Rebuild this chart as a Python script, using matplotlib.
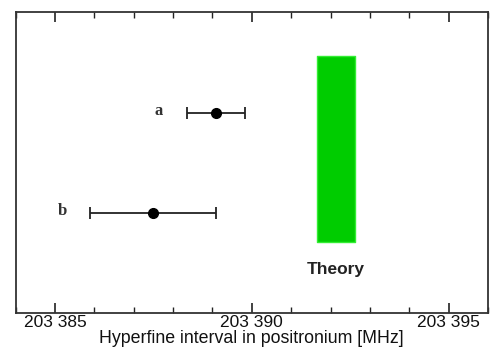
import matplotlib
matplotlib.use("Agg")
import matplotlib.pyplot as plt
from matplotlib.ticker import MultipleLocator, FixedLocator

# Data
labels = ["a", "b"]
values = [203389.10, 203387.5]
errors = [0.74, 1.6]
rows = [2, 1]
theory_low = 203391.65
theory_high = 203392.63
xticks = [203385, 203390, 203395]
xtick_labels = ["203 385", "203 390", "203 395"]

fig = plt.figure(figsize=(4.94, 3.61), dpi=100)
ax = fig.add_axes([0.0314, 0.1338, 0.9565, 0.8316])

ax.set_xlim(203384, 203396)
ax.set_ylim(0, 3)

# theory band
ax.fill_betweenx([0.708, 2.568], theory_low, theory_high,
                 facecolor="#00cc00", edgecolor="#33ee33", linewidth=1.0, zorder=1)
ax.text((theory_low + theory_high) / 2, 0.427, "Theory", ha="center", va="center",
        fontsize=12.5, fontweight="bold", family="Liberation Sans", color="#222222")

for lab, v, e, r in zip(labels, values, errors, rows):
    ax.errorbar(v, r, xerr=e, fmt="o", color="black", ecolor="#222222",
                markersize=7, elinewidth=1.3, capsize=4.5, capthick=1.3, zorder=3)
    ax.text(v - e - 0.72, r + 0.02, lab, ha="center", va="center", fontsize=12,
            family="Liberation Serif", fontweight="bold", color="#333333")

ax.xaxis.set_major_locator(FixedLocator(xticks))
ax.set_xticklabels(xtick_labels, family="Liberation Sans", fontsize=12.5)
ax.xaxis.set_minor_locator(MultipleLocator(1))
ax.tick_params(axis="x", which="both", direction="in", top=True, bottom=True,
               colors="#222222", labelcolor="#111111")
ax.tick_params(axis="x", which="major", length=7, width=1.2, pad=2)
ax.tick_params(axis="x", which="minor", length=4.3, width=1.0)
ax.set_yticks([])
for s in ax.spines.values():
    s.set_linewidth(1.3)
    s.set_color("#333333")

ax.set_xlabel("Hyperfine interval in positronium [MHz]", family="Liberation Sans",
              fontsize=12.8, labelpad=0, color="#111111")

fig.savefig("out.png", dpi=100)
